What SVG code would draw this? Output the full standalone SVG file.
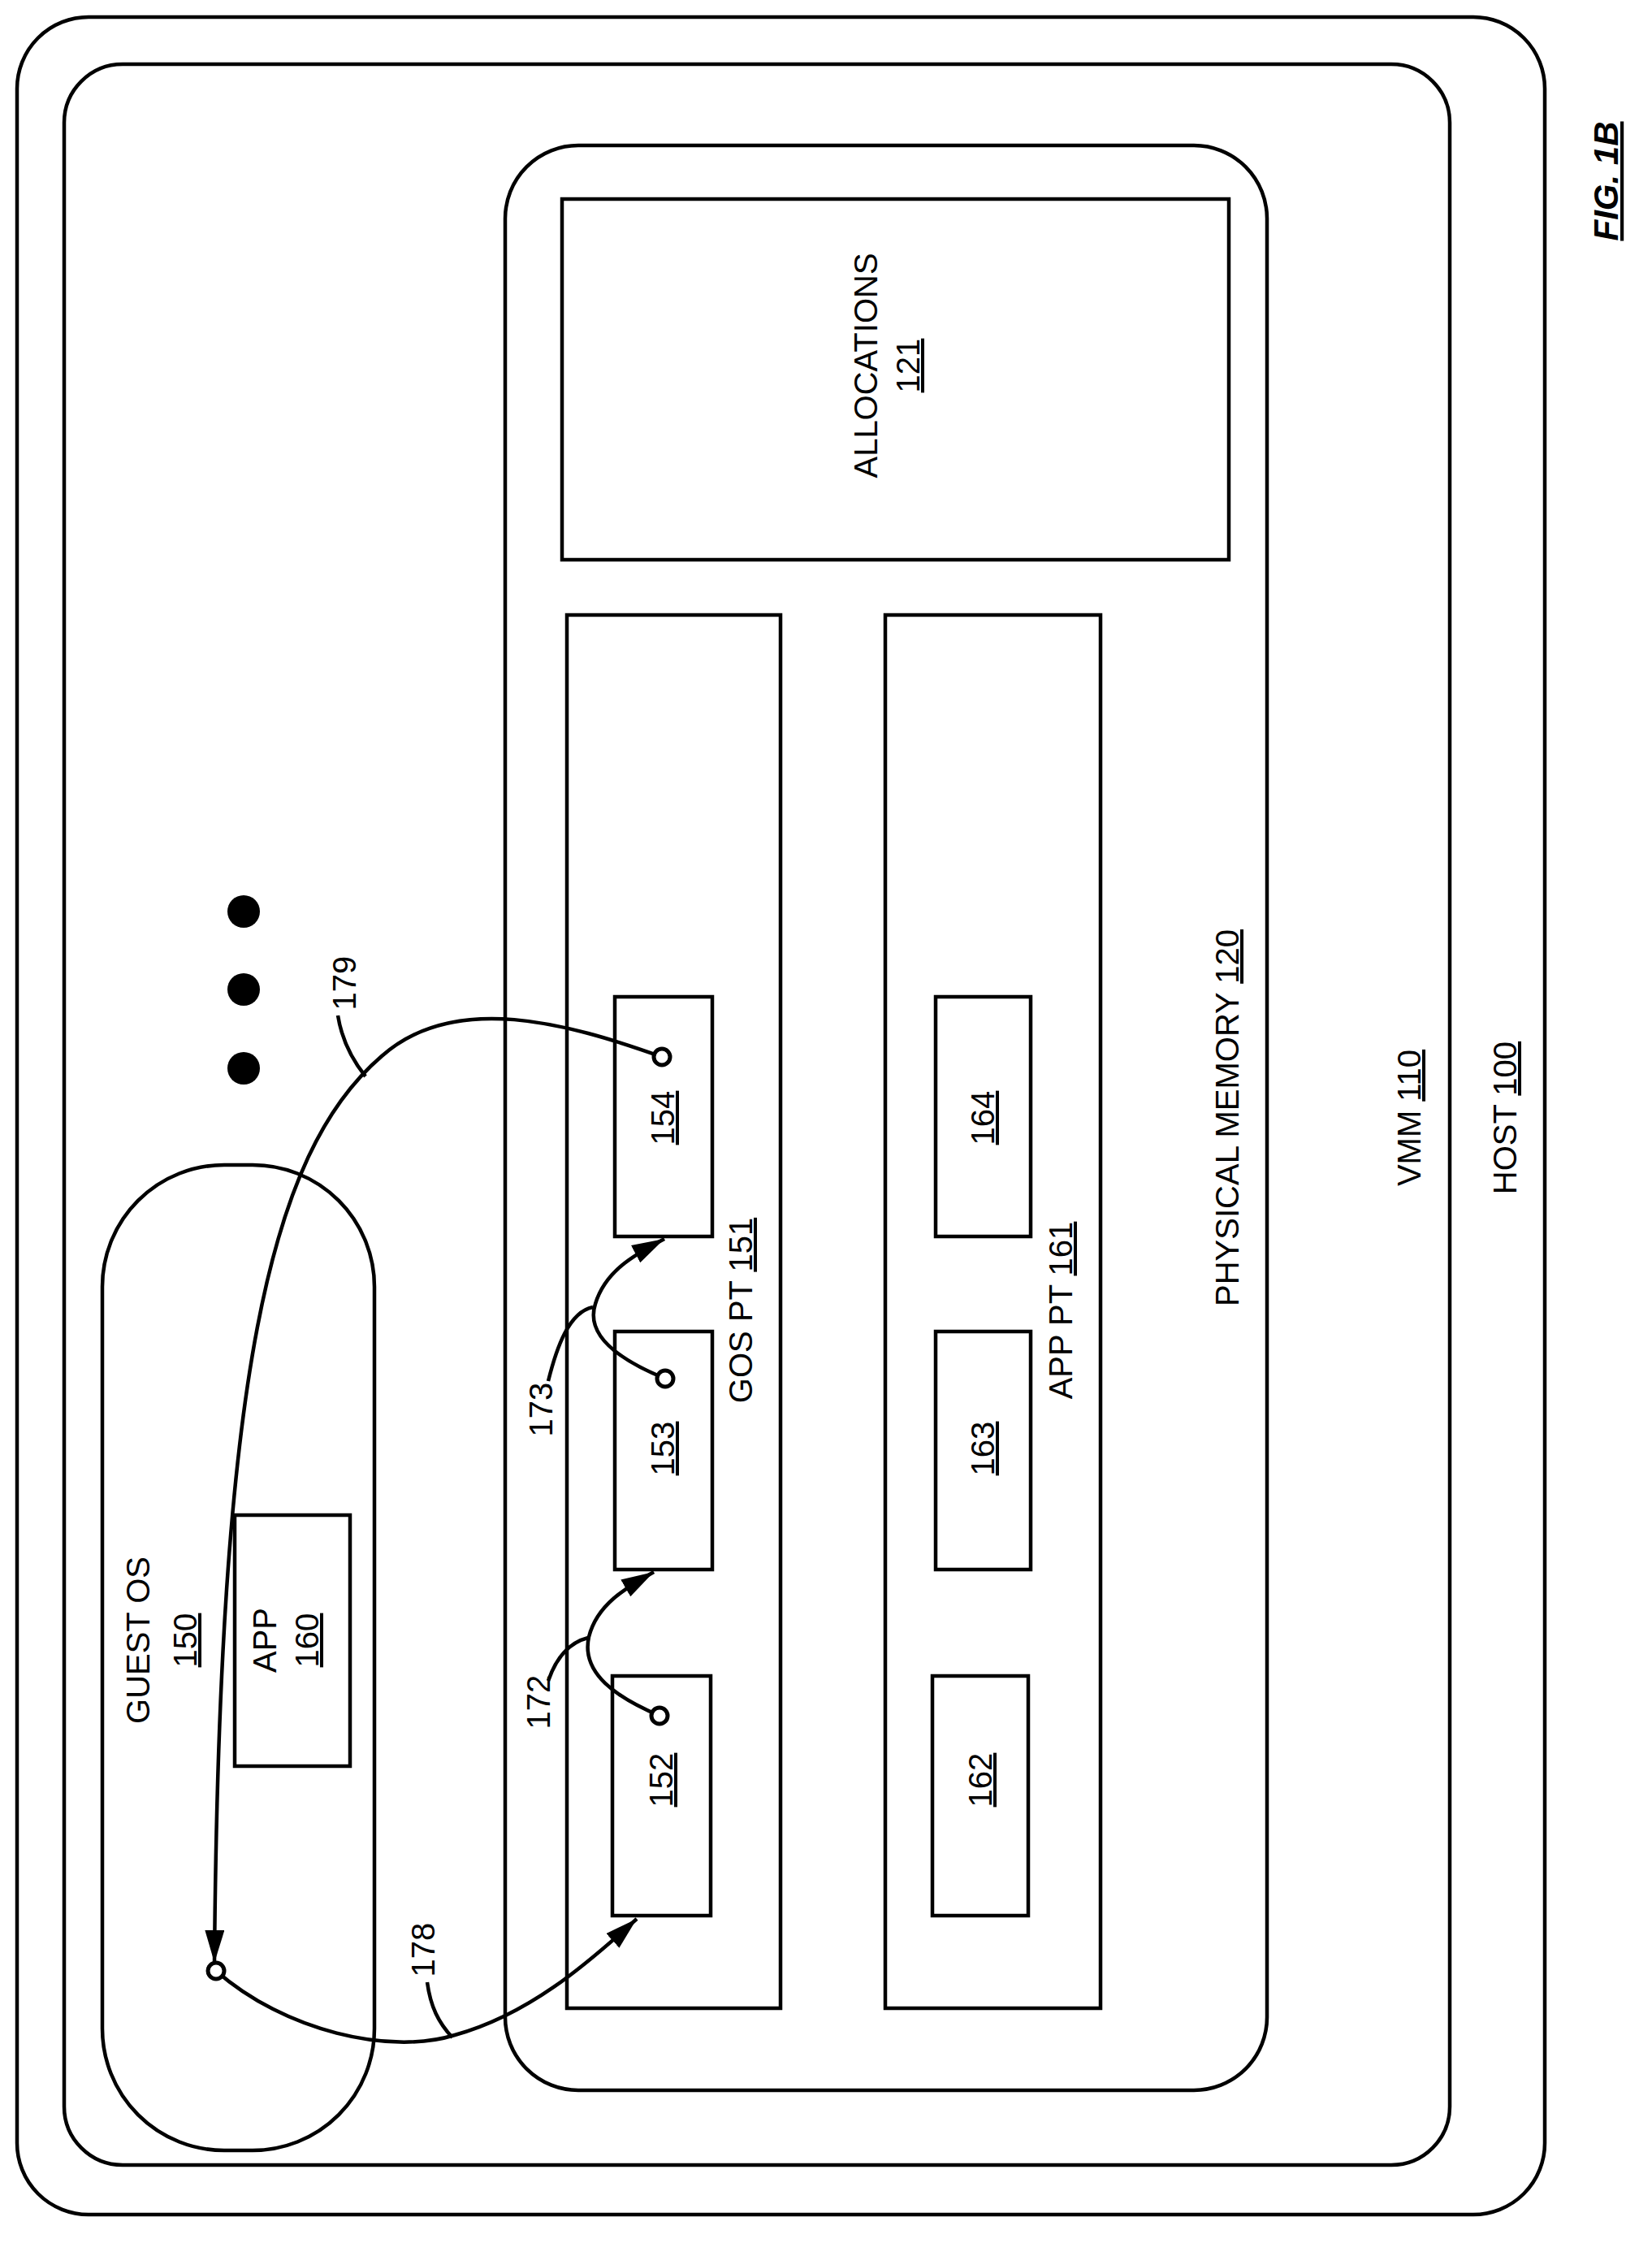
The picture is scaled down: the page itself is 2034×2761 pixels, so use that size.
<svg xmlns="http://www.w3.org/2000/svg" width="2034" height="2761" viewBox="0 0 2034 2761">
<style>
.b{fill:none;stroke:#000;stroke-width:4.5}
.c{fill:none;stroke:#000;stroke-width:4.5}
text{font-family:"Liberation Sans",Arial,sans-serif;font-size:40px;fill:#000;text-anchor:middle}
.u{text-decoration:underline}
</style>
<defs>
<marker id="a" viewBox="0 0 40 24" refX="40" refY="12" markerWidth="40" markerHeight="24" markerUnits="userSpaceOnUse" orient="auto">
<path d="M0,0 L40,12 L0,24 z" fill="#000"/>
</marker>
</defs>
<g id="host"><rect class="b" x="21" y="21" width="1881" height="2705" rx="88"/>
<text transform="translate(1867,1376) rotate(-90)">HOST <tspan class="u">100</tspan></text></g>
<g id="vmm"><rect class="b" x="79" y="79" width="1706" height="2586" rx="72"/>
<text transform="translate(1749,1376) rotate(-90)">VMM <tspan class="u">110</tspan></text></g>
<g id="pmem"><rect class="b" x="622" y="179" width="938" height="2394" rx="90"/>
<text transform="translate(1525,1376) rotate(-90)">PHYSICAL MEMORY <tspan class="u">120</tspan></text></g>
<g id="alloc"><rect class="b" x="692" y="245" width="821" height="444"/>
<text transform="translate(1080,450) rotate(-90)">ALLOCATIONS</text>
<text class="u" transform="translate(1132,450) rotate(-90)">121</text></g>
<g id="gospt"><rect class="b" x="698" y="757" width="263" height="1715"/>
<text transform="translate(926,1613) rotate(-90)">GOS PT <tspan class="u">151</tspan></text></g>
<g id="apppt"><rect class="b" x="1090" y="757" width="265" height="1715"/>
<text transform="translate(1320,1613) rotate(-90)">APP PT <tspan class="u">161</tspan></text></g>
<g id="n154"><rect class="b" x="757" y="1227" width="120" height="295"/><text class="u" transform="translate(830,1376) rotate(-90)">154</text></g>
<g id="n153"><rect class="b" x="757" y="1639" width="120" height="293"/><text class="u" transform="translate(830,1783) rotate(-90)">153</text></g>
<g id="n152"><rect class="b" x="754" y="2063" width="121" height="295"/><text class="u" transform="translate(828,2191) rotate(-90)">152</text></g>
<g id="n164"><rect class="b" x="1152" y="1227" width="117" height="295"/><text class="u" transform="translate(1224,1376) rotate(-90)">164</text></g>
<g id="n163"><rect class="b" x="1152" y="1639" width="117" height="293"/><text class="u" transform="translate(1224,1783) rotate(-90)">163</text></g>
<g id="n162"><rect class="b" x="1148" y="2063" width="118" height="295"/><text class="u" transform="translate(1221,2191) rotate(-90)">162</text></g>
<g id="guest"><rect class="b" x="126" y="1434" width="335" height="1213" rx="150"/>
<text transform="translate(184,2019) rotate(-90)">GUEST OS</text>
<text class="u" transform="translate(242,2019) rotate(-90)">150</text></g>
<g id="app"><rect class="b" x="289" y="1865" width="142" height="309"/>
<text transform="translate(340,2019) rotate(-90)">APP</text>
<text class="u" transform="translate(392,2019) rotate(-90)">160</text></g>
<g id="dots"><circle cx="300" cy="1122" r="20"/><circle cx="300" cy="1218" r="20"/><circle cx="300" cy="1315" r="20"/></g>
<g id="connectors">
<path class="c" d="M812,2112 C760,2090 715,2060 725,2015 C735,1975 770,1955 805,1935" marker-end="url(#a)"/>
<path class="c" d="M819,1697 C765,1675 720,1645 733,1605 C745,1565 780,1545 818,1525" marker-end="url(#a)"/>
<path class="c" d="M815,1301 C700,1260 560,1220 470,1300 C330,1420 270,1700 264,2416" marker-end="url(#a)"/>
<path class="c" d="M266,2426 C350,2500 480,2530 560,2505 C650,2480 720,2420 784,2362" marker-end="url(#a)"/>
<path class="c" d="M675,2069 C685,2040 700,2022 724,2016"/>
<path class="c" d="M675,1700 C685,1660 700,1615 730,1609"/>
<path class="c" d="M450,1325 C430,1300 420,1275 416,1250"/>
<path class="c" d="M557,2508 C540,2490 530,2470 526,2440"/>
<circle cx="815" cy="1301" r="10" fill="#fff" stroke="#000" stroke-width="5"/>
<circle cx="819" cy="1697" r="10" fill="#fff" stroke="#000" stroke-width="5"/>
<circle cx="812" cy="2112" r="10" fill="#fff" stroke="#000" stroke-width="5"/>
<circle cx="266" cy="2426" r="10" fill="#fff" stroke="#000" stroke-width="5"/>
<text transform="translate(677,2095) rotate(-90)">172</text>
<text transform="translate(680,1735) rotate(-90)">173</text>
<text transform="translate(438,1210) rotate(-90)">179</text>
<text transform="translate(535,2400) rotate(-90)">178</text>
</g>
<text transform="translate(1992,223) rotate(-90)" style="font-weight:bold;font-style:italic;font-size:42px" class="u">FIG. 1B</text>
</svg>
